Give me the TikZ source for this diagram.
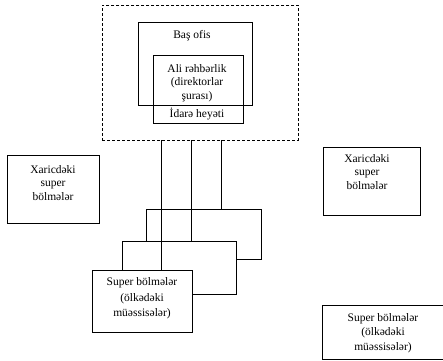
\documentclass[tikz,border=0pt]{standalone}
\usepackage{fontspec}
\setmainfont{Liberation Serif}
\begin{document}
\begin{tikzpicture}[x=1pt,y=-1pt,line width=0.8pt,
  box/.style={draw,fill=white,inner sep=0pt,anchor=north west},
  frame/.style={draw,inner sep=0pt,anchor=north west},
  label/.style={align=center,inner sep=0pt,font=\fontsize{11.5}{13.5}\selectfont}]
\useasboundingbox (0,0) rectangle (443,360);
\begin{scope}
\clip (0,0) rectangle (443,360);

% head office group
\node[frame,dash pattern=on 3pt off 2pt,minimum width=196pt,minimum height=135pt] (grp) at (102,5) {};
\node[frame,minimum width=114pt,minimum height=83pt] (hqbox) at (138,22) {};
\node[frame,minimum width=90pt,minimum height=68pt] (bdbox) at (153,55) {};
\node[label] (hq) at (192,36) {Baş ofis};
\node[label] (board) at (197,83) {Ali rəhbərlik\\(direktorlar\\şurası)};
\node[label] (mgmt) at (197,113.5) {İdarə heyəti};
\coordinate (d1) at (161,140);
\coordinate (d2) at (191,140);
\coordinate (d3) at (221,140);

% foreign divisions
\node[box,minimum width=92pt,minimum height=68pt] (flbox) at (7,155) {};
\node[label] (fl) at (53,183) {Xaricdəki\\super\\bölmələr};
\node[box,minimum width=97pt,minimum height=68pt] (frbox) at (323,147) {};
\node[label] (fr) at (367,172) {Xaricdəki\\super\\bölmələr};

% stacked domestic divisions
\node[box,minimum width=115pt,minimum height=50pt] (s3box) at (146,209) {};
\node[box,minimum width=114pt,minimum height=53pt] (s2box) at (122,241) {};
\node[box,minimum width=100pt,minimum height=62pt] (s1box) at (92,270) {};
\node[label,font=\fontsize{11.5}{15.5}\selectfont] (dom) at (142,298.5) {Super bölmələr\\(ölkədəki\\müəssisələr)};

% links from head office
\draw (d1) -- (d1 |- s1box.north);
\draw (d2) -- (d2 |- s2box.north);
\draw (d3) -- (d3 |- s3box.north);

% domestic division at the lower right
\node[box,minimum width=128pt,minimum height=54pt] (drbox) at (322,305) {};
\node[label,font=\fontsize{11.5}{14.5}\selectfont] (domr) at (383,333) {Super bölmələr\\(ölkədəki\\müəssisələr)};
\end{scope}
\end{tikzpicture}
\end{document}
